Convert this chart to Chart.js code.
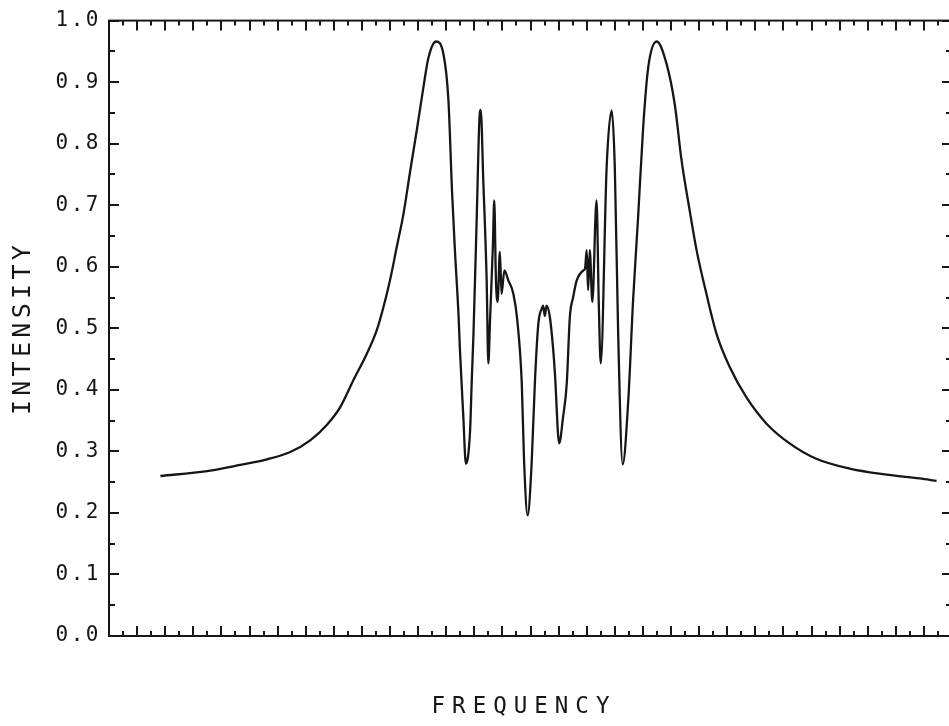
<!DOCTYPE html>
<html>
<head>
<meta charset="utf-8">
<script src="https://cdn.jsdelivr.net/npm/chart.js@4/dist/chart.umd.min.js"></script>
<style>
  html, body { margin: 0; padding: 0; background: #fff; overflow: hidden; }
  #wrap { width: 960px; height: 726px; }
</style>
</head>
<body>
<div id="wrap"><canvas id="spectrum" width="960" height="726"></canvas></div>
<script>
// frequency in arbitrary units (one major tick = 1), intensity
const freq = [
  1.83, 3.49, 4.67, 5.62, 6.45, 7.16, 7.75, 8.23, 8.70, 9.18,
  9.53, 9.77, 10.00, 10.24, 10.48, 10.72, 10.95, 11.19, 11.37, 11.64,
  11.90, 12.08, 12.21, 12.31, 12.44, 12.49, 12.61, 12.70, 12.85, 12.91, 12.97,
  13.09, 13.18, 13.23, 13.32, 13.44, 13.50, 13.56, 13.66, 13.71, 13.77,
  13.83, 13.91, 13.97, 14.07, 14.21, 14.39, 14.53, 14.69, 14.77, 14.90,
  15.04, 15.16, 15.28, 15.40, 15.45, 15.51, 15.57, 15.69, 15.81, 15.87,
  16.02, 16.16, 16.29, 16.40, 16.52, 16.64, 16.88, 16.94, 17.00, 17.05,
  17.11, 17.20, 17.35, 17.43, 17.50, 17.71, 17.89, 18.00, 18.12, 18.28,
  18.48, 18.65, 18.83, 19.01, 19.19, 19.49, 19.84, 20.14, 20.37, 20.67,
  20.91, 21.26, 21.62, 22.09, 22.68, 23.40, 24.22, 25.17, 26.36, 27.54,
  28.85, 29.45
];
const intensity = [
  0.260, 0.268, 0.278, 0.287, 0.299, 0.318, 0.343, 0.372, 0.416, 0.459,
  0.497, 0.535, 0.578, 0.632, 0.686, 0.756, 0.821, 0.892, 0.940, 0.966,
  0.946, 0.870, 0.720, 0.627, 0.520, 0.464, 0.356, 0.280, 0.334, 0.416, 0.490,
  0.686, 0.838, 0.855, 0.740, 0.578, 0.443, 0.513, 0.632, 0.708, 0.578,
  0.543, 0.624, 0.556, 0.594, 0.578, 0.556, 0.513, 0.410, 0.286, 0.196,
  0.280, 0.416, 0.508, 0.532, 0.537, 0.520, 0.537, 0.518, 0.464, 0.426,
  0.313, 0.356, 0.410, 0.518, 0.551, 0.577, 0.594, 0.597, 0.627, 0.562,
  0.627, 0.543, 0.708, 0.540, 0.443, 0.762, 0.854, 0.762, 0.491, 0.279,
  0.383, 0.545, 0.681, 0.827, 0.924, 0.966, 0.930, 0.862, 0.775, 0.690,
  0.627, 0.556, 0.491, 0.437, 0.388, 0.345, 0.313, 0.288, 0.272, 0.263,
  0.256, 0.252
];
const xRange = [0, 30];
const yRange = [0, 1];

const INK = '#161616';
const MONO = '"DejaVu Sans Mono", "Liberation Mono", monospace';

const isTenth = v => Math.abs(v * 10 - Math.round(v * 10)) < 1e-6;

// plotter style frame: box with inward ticks on all four sides, spaced lettering
const plotterFrame = {
  id: 'plotterFrame',
  beforeDraw(chart) {
    chart.ctx.letterSpacing = '2.5px';
  },
  beforeDatasetsDraw(chart) {
    chart.ctx.letterSpacing = '0px';
  },
  afterDraw(chart) {
    const { ctx, chartArea: a, scales: { x, y } } = chart;
    ctx.save();
    ctx.strokeStyle = INK;
    ctx.lineWidth = 2;
    ctx.strokeRect(a.left, a.top, a.right - a.left, a.bottom - a.top);

    ctx.beginPath();
    x.ticks.forEach(t => {
      const px = Math.round(x.getPixelForValue(t.value));
      const len = Number.isInteger(Math.round(t.value * 1e6) / 1e6) ? 10 : 5;
      ctx.moveTo(px, a.bottom); ctx.lineTo(px, a.bottom - len);
      ctx.moveTo(px, a.top); ctx.lineTo(px, a.top + len);
    });
    y.ticks.forEach(t => {
      const py = Math.round(y.getPixelForValue(t.value));
      const len = isTenth(t.value) ? 10 : 6;
      ctx.moveTo(a.left, py); ctx.lineTo(a.left + len, py);
      ctx.moveTo(a.right, py); ctx.lineTo(a.right - len, py);
    });
    ctx.stroke();

    ctx.fillStyle = INK;
    ctx.textAlign = 'center';
    ctx.textBaseline = 'middle';

    ctx.font = '22.5px ' + MONO;
    ctx.letterSpacing = '7px';
    ctx.fillText(x.options.title.text, 524, 707);

    ctx.translate(23, 330);
    ctx.rotate(-Math.PI / 2);
    ctx.font = '25px ' + MONO;
    ctx.letterSpacing = '4.3px';
    ctx.fillText(y.options.title.text, 2, 0);
    ctx.restore();
  }
};

new Chart(document.getElementById('spectrum'), {
  type: 'line',
  data: {
    datasets: [{
      label: 'Intensity',
      data: freq.map((f, i) => ({ x: f, y: intensity[i] })),
      borderColor: INK,
      borderWidth: 2.3,
      pointRadius: 0,
      fill: false,
      cubicInterpolationMode: 'monotone'
    }]
  },
  options: {
    responsive: false,
    animation: false,
    layout: { padding: { top: 20, right: 8, left: 0, bottom: 0 } },
    plugins: {
      legend: { display: false },
      tooltip: { enabled: false }
    },
    scales: {
      x: {
        type: 'linear',
        min: xRange[0],
        max: xRange[1],
        grid: { display: false, drawTicks: false },
        border: { display: false },
        ticks: { display: false, stepSize: 0.5, autoSkip: false },
        title: { display: false, text: 'FREQUENCY' },
        afterFit: s => { s.height = 90; }
      },
      y: {
        min: yRange[0],
        max: yRange[1],
        grid: { display: false, drawTicks: false },
        border: { display: false },
        ticks: {
          stepSize: 0.05,
          autoSkip: false,
          padding: 8,
          color: INK,
          font: { family: MONO, size: 21 },
          callback: v => isTenth(v) ? v.toFixed(1) : ''
        },
        title: { display: false, text: 'INTENSITY' },
        afterFit: s => { s.width = 109; }
      }
    }
  },
  plugins: [plotterFrame]
});
</script>
</body>
</html>
